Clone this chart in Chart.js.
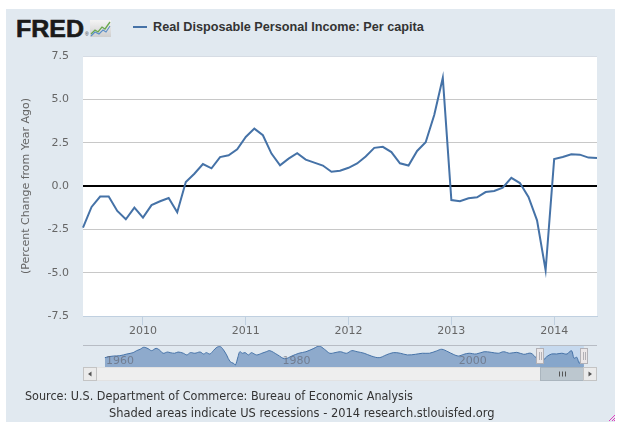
<!DOCTYPE html>
<html>
<head>
<meta charset="utf-8">
<script src="https://cdn.jsdelivr.net/npm/chart.js@4.4.1/dist/chart.umd.min.js"></script>
<style>
  html, body { margin:0; padding:0; background:#ffffff; }
  body { width:629px; height:433px; position:relative; overflow:hidden; }
  #panel { position:absolute; left:6px; top:9px; width:609px; height:413px; background:#e1e9f0; }
  canvas { position:absolute; left:0; }
  .txt { position:absolute; white-space:nowrap; }
  #logo { left:16px; top:17px; font-family:"Liberation Sans", Arial, sans-serif; font-weight:bold; font-size:24px; line-height:24px; color:#1a1a1a; transform-origin:0 0; -webkit-text-stroke:0.6px #1a1a1a; }
  #reg { left:85px; top:32px; font-family:"Liberation Sans", Arial, sans-serif; font-size:5px; line-height:5px; color:#333; }
  #legendTxt { left:153px; top:20px; font-family:"Liberation Sans", Arial, sans-serif; font-weight:bold; font-size:12px; line-height:14px; color:#333333; }
  #legendLine { position:absolute; left:133px; top:26px; width:14px; height:2px; background:#4572a7; }
  #src { left:25px; top:389px; font-family:"DejaVu Sans Condensed","DejaVu Sans",sans-serif; font-stretch:condensed; font-size:11.5px; line-height:14px; color:#333333; }
  #rec { left:109px; top:406px; font-family:"DejaVu Sans Condensed","DejaVu Sans",sans-serif; font-stretch:condensed; font-size:11.5px; line-height:14px; color:#333333; }
  #icon { position:absolute; left:90px; top:20px; }
  #grip { position:absolute; left:608px; top:414px; }
</style>
</head>
<body>
<div id="panel"></div>
<div id="logo" class="txt">FRED</div>
<div id="reg" class="txt">®</div>
<svg id="icon" width="21" height="17" viewBox="0 0 21 17">
  <defs><linearGradient id="g" x1="0" y1="0" x2="0" y2="1"><stop offset="0" stop-color="#f4f4f4"/><stop offset="1" stop-color="#cfcfcf"/></linearGradient></defs>
  <rect x="0" y="0" width="21" height="17" fill="url(#g)"/>
  <polyline points="1,14 5,10 8,12 12,7 15,9 20,2" fill="none" stroke="#6aa84f" stroke-width="1.3"/>
  <polyline points="1,16 5,12 9,14 13,10 16,12 20,6" fill="none" stroke="#5b8fc7" stroke-width="1.1"/>
</svg>
<div id="legendLine"></div>
<div id="legendTxt" class="txt">Real Disposable Personal Income: Per capita</div>
<canvas id="main" width="629" height="345" style="top:0;width:629px;height:345px"></canvas>
<canvas id="nav" width="629" height="45" style="top:340px;width:629px;height:45px"></canvas>
<div id="src" class="txt">Source: U.S. Department of Commerce: Bureau of Economic Analysis</div>
<div id="rec" class="txt">Shaded areas indicate US recessions - 2014 research.stlouisfed.org</div>
<svg id="grip" width="8" height="8" viewBox="0 0 8 8">
  <line x1="7" y1="1" x2="1" y2="7" stroke="#e040c0" stroke-width="1"/>
  <line x1="7" y1="4" x2="4" y2="7" stroke="#e040c0" stroke-width="1"/>
  <line x1="7" y1="6" x2="6" y2="7" stroke="#e040c0" stroke-width="1"/>
</svg>
<script>
// ---- main chart data (percent change from year ago, monthly) ----
const months = [
  '2009-06','2009-07','2009-08','2009-09','2009-10','2009-11','2009-12',
  '2010-01','2010-02','2010-03','2010-04','2010-05','2010-06','2010-07','2010-08','2010-09','2010-10','2010-11','2010-12',
  '2011-01','2011-02','2011-03','2011-04','2011-05','2011-06','2011-07','2011-08','2011-09','2011-10','2011-11','2011-12',
  '2012-01','2012-02','2012-03','2012-04','2012-05','2012-06','2012-07','2012-08','2012-09','2012-10','2012-11','2012-12',
  '2013-01','2013-02','2013-03','2013-04','2013-05','2013-06','2013-07','2013-08','2013-09','2013-10','2013-11','2013-12',
  '2014-01','2014-02','2014-03','2014-04','2014-05','2014-06'
];
const incomeChange = [
  -2.40,-1.21,-0.61,-0.61,-1.44,-1.92,-1.25,
  -1.82,-1.10,-0.88,-0.69,-1.52,0.23,0.71,1.27,1.02,1.67,1.77,2.12,
  2.83,3.31,2.93,1.87,1.19,1.58,1.89,1.52,1.35,1.18,0.82,0.88,
  1.05,1.30,1.70,2.20,2.26,1.96,1.31,1.18,2.02,2.52,4.10,6.24,
  -0.81,-0.88,-0.71,-0.65,-0.35,-0.29,-0.10,0.47,0.17,-0.63,-1.98,-4.86,
  1.55,1.67,1.83,1.81,1.64,1.62
];
const yTicks = [-7.5,-5.0,-2.5,0.0,2.5,5.0,7.5];

// ---- navigator (full history, approximate) ----
const navYears = [
  1960.1,1960.5,1961.1,1961.8,1962.6,1963.3,1963.7,1964.1,1964.5,1965.0,1965.4,1965.9,1966.3,1966.7,1967.2,1967.5,
  1968.0,1968.4,1969.0,1969.4,1969.8,1970.3,1970.9,1971.3,1971.6,1972.0,1972.4,1972.8,1973.2,1973.5,1973.9,1974.3,
  1974.7,1974.9,1975.2,1975.4,1975.7,1976.0,1976.4,1976.7,1977.3,1977.9,1978.4,1978.8,1979.7,1980.5,1981.3,1982.1,
  1982.9,1983.8,1984.4,1985.0,1985.6,1986.2,1986.8,1987.5,1988.1,1988.7,1989.5,1990.3,1991.2,1992.0,1992.8,1993.6,
  1994.4,1995.3,1996.1,1996.9,1997.7,1998.3,1999.0,1999.6,2000.2,2000.8,2001.4,2002.2,2003.1,2003.9,2004.7,2005.3,
  2006.0,2006.8,2007.6,2008.4,2009.05,2009.6,2010.2,2010.75,2011.3,2011.9,2012.5,2013.0,2013.3,2013.6,2013.9,2014.2,2014.42
];
const navValues = [
  0.2,0.85,1.3,1.5,2.6,3.5,4.8,5.7,7.0,6.1,4.8,6.3,5.2,3.1,3.9,3.5,
  3.1,3.9,3.1,2.0,3.5,3.1,3.9,2.6,3.5,2.6,4.8,7.0,7.4,5.7,2.0,-2.4,
  -3.5,-4.6,0.85,4.1,3.1,3.5,2.0,3.5,2.0,3.1,4.1,4.8,2.0,-0.5,1.3,3.1,
  4.1,6.3,7.8,5.7,3.1,3.5,4.1,3.1,4.8,4.1,3.1,1.3,0.2,2.0,3.5,3.1,
  2.0,2.4,3.1,3.1,4.6,5.7,4.1,2.4,1.3,2.4,3.1,2.6,4.1,3.7,3.1,4.1,
  3.1,3.7,2.4,3.1,-0.2,-2.4,0.85,2.6,2.6,3.1,2.6,4.8,-0.2,0.5,-3.5,1.3,1.0
];
const navTickYears = [1960, 1980, 2000];
const navSelection = [2009 + 5/12, 2014 + 5/12];

const LINE = '#4572a7';
const FONT = 'DejaVu Sans';

const plotBg = {
  id:'plotBg',
  beforeDraw(chart){
    const {ctx, chartArea:a} = chart;
    ctx.save(); ctx.fillStyle = '#ffffff';
    ctx.fillRect(a.left, a.top, a.right - a.left, a.bottom - a.top);
    ctx.restore();
  }
};

new Chart(document.getElementById('main'), {
  type:'line',
  data:{ labels: months, datasets:[{ data: incomeChange, borderColor: LINE, borderWidth:2, pointRadius:0, tension:0, fill:false }] },
  options:{
    responsive:false, animation:false, devicePixelRatio:1,
    layout:{ padding:{ left:17, right:32, top:56, bottom:0 } },
    plugins:{ legend:{display:false}, tooltip:{enabled:false} },
    scales:{
      x:{
        type:'category', offset:false,
        grid:{ drawOnChartArea:false, drawTicks:true, tickLength:9,
               color:(c)=> (months[c.index] && months[c.index].endsWith('-01')) ? '#c0d0e0' : 'rgba(0,0,0,0)' },
        border:{ display:true, color:'#c0d0e0', width:1 },
        ticks:{ autoSkip:false, maxRotation:0, minRotation:0, padding:0, color:'#666666', font:{family:FONT, size:11},
                callback:(v,i)=> months[i].endsWith('-01') ? months[i].slice(0,4) : '' },
        afterFit:(s)=>{ s.height = 29; }
      },
      y:{
        min:-7.5, max:7.5,
        afterBuildTicks:(s)=>{ s.ticks = yTicks.map(v=>({value:v})); },
        ticks:{ callback:(v)=> Number(v).toFixed(1), color:'#666666', font:{family:FONT, size:11}, padding:14 },
        grid:{ drawTicks:false,
               color:(c)=> c.tick.value === 0 ? '#000000' : (c.tick.value === 7.5 ? '#d6dce4' : (c.tick.value === -7.5 ? '#c0d0e0' : '#c8c8c8')),
               lineWidth:(c)=> c.tick.value === 0 ? 2 : 1 },
        border:{ display:false },
        title:{ display:true, text:'(Percent Change from Year Ago)', color:'#666666', font:{family:FONT, size:11}, padding:{top:3, bottom:0} },
        afterFit:(s)=>{ s.width = 66; }
      }
    }
  },
  plugins:[plotBg]
});

const navDecor = {
  id:'navDecor',
  beforeDatasetsDraw(chart){
    const {ctx, chartArea:a, scales:{x}} = chart;
    const s0 = x.getPixelForValue(navSelection[0]), s1 = x.getPixelForValue(navSelection[1]);
    ctx.save();
    ctx.fillStyle = '#c6d9ee';
    ctx.fillRect(s0, a.top, s1 - s0, a.bottom - a.top);
    ctx.restore();
  },
  afterDatasetsDraw(chart){
    const {ctx, chartArea:a, scales:{x}} = chart;
    ctx.save();
    ctx.strokeStyle = '#b7bcc4'; ctx.lineWidth = 1;
    ctx.beginPath(); ctx.moveTo(a.left, a.top + 0.5); ctx.lineTo(a.right, a.top + 0.5); ctx.stroke();
    ctx.fillStyle = 'rgba(95,95,105,0.6)';
    ctx.font = '11px "DejaVu Sans"';
    ctx.textBaseline = 'middle'; ctx.textAlign = 'left';
    navTickYears.forEach(yr => { ctx.fillText(String(yr), x.getPixelForValue(yr) + 2, a.top + 16); });
    const s0 = Math.round(x.getPixelForValue(navSelection[0])), s1 = Math.round(x.getPixelForValue(navSelection[1]));
    [s0, s1].forEach(p => {
      ctx.fillStyle = '#ebe7e8'; ctx.strokeStyle = '#b2b1b6';
      ctx.fillRect(p - 3.5, a.top + 3.5, 7, 15); ctx.strokeRect(p - 3.5, a.top + 3.5, 7, 15);
      ctx.beginPath();
      ctx.moveTo(p - 0.5, a.top + 7); ctx.lineTo(p - 0.5, a.top + 15);
      ctx.moveTo(p + 1.5, a.top + 7); ctx.lineTo(p + 1.5, a.top + 15);
      ctx.stroke();
    });
    const sy = a.bottom + 0.5, sh = 13;
    ctx.fillStyle = '#eeeeee'; ctx.strokeStyle = '#e2e2e2';
    ctx.fillRect(a.left, sy, a.right - a.left, sh); ctx.strokeRect(a.left + 0.5, sy, a.right - a.left - 1, sh);
    ctx.fillStyle = '#bcc7cf'; ctx.strokeStyle = '#aab5be';
    ctx.fillRect(s0 + 0.5, sy, s1 - s0, sh); ctx.strokeRect(s0 + 0.5, sy, s1 - s0, sh);
    const cx = Math.round((s0 + s1) / 2);
    ctx.strokeStyle = '#555'; ctx.beginPath();
    [-3, 0, 3].forEach(d => { ctx.moveTo(cx + d + 0.5, sy + 4); ctx.lineTo(cx + d + 0.5, sy + 9); });
    ctx.stroke();
    [[a.left, -1], [a.right - 14, 1]].forEach(([bx, dir]) => {
      ctx.fillStyle = '#ebebeb'; ctx.strokeStyle = '#c4c4c4';
      ctx.fillRect(bx + 0.5, sy, 13, sh); ctx.strokeRect(bx + 0.5, sy, 13, sh);
      const mx = bx + 7, my = sy + sh / 2;
      ctx.fillStyle = '#555'; ctx.beginPath();
      ctx.moveTo(mx + dir * 2, my); ctx.lineTo(mx - dir * 1.5, my - 2.5); ctx.lineTo(mx - dir * 1.5, my + 2.5); ctx.closePath(); ctx.fill();
    });
    ctx.restore();
  }
};

new Chart(document.getElementById('nav'), {
  type:'line',
  data:{ datasets:[{ data: navYears.map((yr, i) => ({x: yr, y: navValues[i]})), borderColor: LINE, borderWidth:1,
                     backgroundColor:'rgba(110,145,190,0.72)', fill:'start', pointRadius:0, tension:0.35 }] },
  options:{
    responsive:false, animation:false, devicePixelRatio:1,
    layout:{ padding:{ left:83, right:32, top:5, bottom:18 } },
    plugins:{ legend:{display:false}, tooltip:{enabled:false} },
    scales:{
      x:{ type:'linear', min:1957.62, max:2015.9, display:false },
      y:{ min:-5.9, max:8.5, display:false }
    }
  },
  plugins:[navDecor]
});

function fit(id, target){
  const el = document.getElementById(id);
  const base = parseFloat(getComputedStyle(el).fontSize);
  const w = el.getBoundingClientRect().width;
  if (w > 0) el.style.fontSize = (base * target / w).toFixed(2) + 'px';
}
function fitX(id, target){
  const el = document.getElementById(id);
  const w = el.getBoundingClientRect().width;
  if (w > 0) el.style.transform = 'scaleX(' + (target / w).toFixed(3) + ')';
}
fit('legendTxt', 271);
fit('src', 388);
fit('rec', 386);
fitX('logo', 68);
</script>
</body>
</html>
